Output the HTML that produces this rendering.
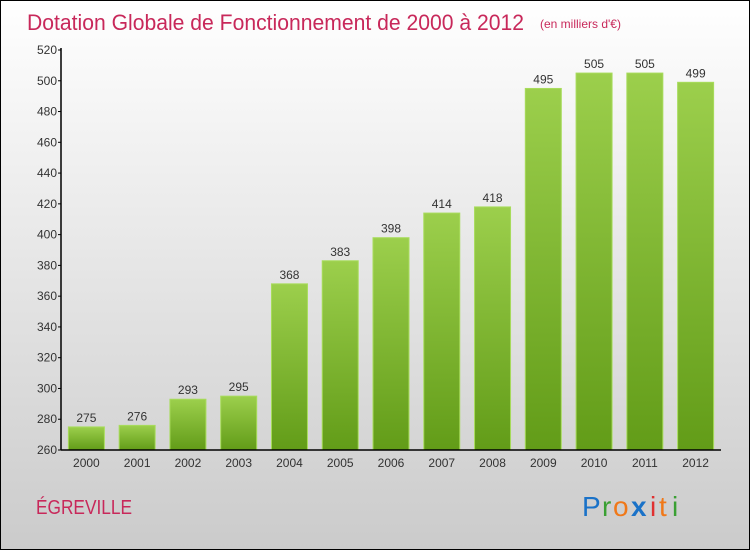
<!DOCTYPE html>
<html><head><meta charset="utf-8"><style>
body{margin:0;width:750px;height:550px;overflow:hidden}
svg{display:block;font-family:"Liberation Sans",sans-serif}
</style></head><body>
<svg id="c" width="750" height="550" xmlns="http://www.w3.org/2000/svg">
<defs>
<linearGradient id="bg" x1="0" y1="0" x2="0" y2="1"><stop offset="0" stop-color="#ffffff"/><stop offset="1" stop-color="#cbcbcb"/></linearGradient>
<linearGradient id="bar" x1="0" y1="0" x2="0" y2="1"><stop offset="0" stop-color="#9ccf4c"/><stop offset="1" stop-color="#629c18"/></linearGradient>
</defs>
<rect x="0.5" y="0.5" width="749" height="549" fill="url(#bg)" stroke="#000"/>
<text x="27" y="30" font-size="22" fill="#c8285a" textLength="497" lengthAdjust="spacingAndGlyphs">Dotation Globale de Fonctionnement de 2000 à 2012</text>
<text x="540" y="28" font-size="12" fill="#c8285a">(en milliers d'€)</text>
<text x="36" y="514" font-size="20" fill="#c8285a" textLength="96" lengthAdjust="spacingAndGlyphs">ÉGREVILLE</text>
<g font-size="28" font-family="'Liberation Sans',sans-serif">
<text x="582" y="516" fill="#1a72c8">P</text><text x="602" y="516" fill="#3aa033">r</text><text x="613" y="516" fill="#f07818">o</text><text x="631" y="516" fill="#1a72c8" font-weight="bold">x</text><text x="650" y="516" fill="#e03030">i</text><text x="659" y="516" fill="#f07818">t</text><text x="672" y="516" fill="#3aa033">i</text>
</g>
<g id="plot"></g>
</svg>
<script>
const years=["2000","2001","2002","2003","2004","2005","2006","2007","2008","2009","2010","2011","2012"];
const values=[275,276,293,295,368,383,398,414,418,495,505,505,499];
const yTicks=[260,280,300,320,340,360,380,400,420,440,460,480,500,520];
const NS="http://www.w3.org/2000/svg";
const g=document.getElementById('plot');
const x0=61,x1=721,yb=450,yt=50,ymin=260,ymax=520;
const y=v=>yb-(v-ymin)/(ymax-ymin)*(yb-yt);
const step=(x1-x0)/years.length;
const xc=i=>x0+step*(i+0.5);
function mk(t,a){const e=document.createElementNS(NS,t);for(const k in a)e.setAttribute(k,a[k]);g.appendChild(e);return e;}
values.forEach((v,i)=>{
 const r=mk('rect',{x:xc(i)-18,y:y(v),width:36,height:yb-y(v),fill:'url(#bar)',stroke:'#a8dc5c','stroke-width':1});
 
 
 const l=mk('text',{x:xc(i),y:y(v)-5,'font-size':12,fill:'#333','text-anchor':'middle'});l.textContent=v;
 
 
 const t=mk('text',{x:xc(i),y:467,'font-size':12,fill:'#333','text-anchor':'middle'});t.textContent=years[i];
 
 
});
yTicks.forEach(v=>{
 mk('line',{x1:x0-3,x2:x0,y1:y(v),y2:y(v),stroke:'#000'});
 const t=mk('text',{x:x0-4,y:y(v)+4,'font-size':12,fill:'#333','text-anchor':'end'});t.textContent=v;
 
 
});
const ya=mk('line',{x1:x0,x2:x0,y1:yt-2,y2:yb,stroke:'#000','stroke-width':1.5});


const xa=mk('line',{x1:x0,x2:x1,y1:yb,y2:yb,stroke:'#000','stroke-width':1.5});


</script>
</body></html>
